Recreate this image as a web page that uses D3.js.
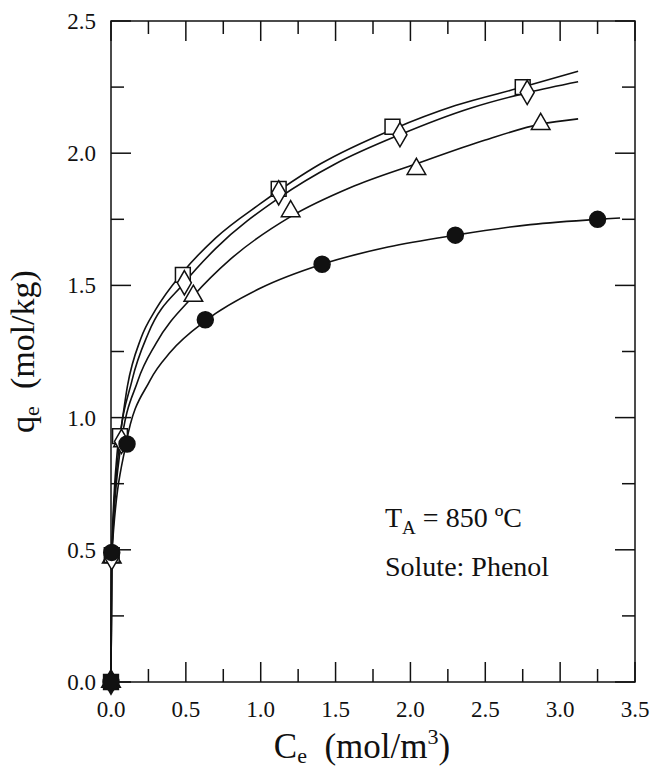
<!DOCTYPE html>
<html>
<head>
<meta charset="utf-8">
<script src="https://cdn.jsdelivr.net/npm/d3@7"></script>
<style>
  body { margin: 0; background: #fff; }
  svg { display: block; font-family: "Liberation Serif", "Times New Roman", serif; }
</style>
</head>
<body>
<div id="chart"></div>
<script>
// Measured points (Ce in mol/m3, qe in mol/kg)
const squareC = [0, 0.005, 0.06, 0.48, 1.12, 1.88, 2.75];
const squareQ = [0, 0.48, 0.93, 1.54, 1.865, 2.10, 2.25];
const diamondC = [0, 0.005, 0.07, 0.49, 1.12, 1.93, 2.78];
const diamondQ = [0, 0.47, 0.91, 1.51, 1.85, 2.07, 2.23];
const triangleC = [0, 0.005, 0.08, 0.55, 1.20, 2.04, 2.87];
const triangleQ = [0, 0.47, 0.91, 1.46, 1.78, 1.94, 2.11];
const circleC = [0, 0.005, 0.107, 0.63, 1.41, 2.30, 3.25];
const circleQ = [0, 0.49, 0.90, 1.37, 1.58, 1.69, 1.75];

// Fitted curves
const squareFitC = [0, 0.005, 0.04, 0.07, 0.11, 0.2, 0.3, 0.48, 0.7, 1.0, 1.4, 1.88, 2.3, 2.75, 3.12];
const squareFitQ = [0, 0.48, 0.86, 0.97, 1.12, 1.30, 1.41, 1.55, 1.68, 1.81, 1.96, 2.09, 2.18, 2.25, 2.31];
const diamondFitC = [0, 0.005, 0.05, 0.14, 0.25, 0.49, 0.7, 1.12, 1.5, 1.93, 2.4, 2.79, 3.12];
const diamondFitQ = [0, 0.47, 0.87, 1.14, 1.32, 1.51, 1.64, 1.83, 1.96, 2.07, 2.17, 2.23, 2.27];
const triangleFitC = [0, 0.005, 0.06, 0.18, 0.3, 0.55, 0.8, 1.2, 1.6, 2.04, 2.5, 2.87, 3.12];
const triangleFitQ = [0, 0.47, 0.87, 1.14, 1.28, 1.46, 1.60, 1.76, 1.87, 1.96, 2.05, 2.11, 2.13];
const circleFitC = [0, 0.005, 0.1, 0.26, 0.4, 0.64, 1.0, 1.41, 1.85, 2.3, 2.8, 3.25, 3.4];
const circleFitQ = [0, 0.48, 0.90, 1.14, 1.25, 1.37, 1.49, 1.58, 1.645, 1.69, 1.73, 1.75, 1.755];

const xTicks = [0, 0.5, 1.0, 1.5, 2.0, 2.5, 3.0, 3.5];
const yTicks = [0, 0.5, 1.0, 1.5, 2.0, 2.5];

const W = 650, H = 774;
const margin = { top: 21, right: 15, bottom: 92, left: 111 };
const width = W - margin.left - margin.right;
const height = H - margin.top - margin.bottom;

const svg = d3.select('#chart').append('svg')
    .attr('width', W)
    .attr('height', H);

const g = svg.append('g')
    .attr('transform', `translate(${margin.left},${margin.top})`);

const x = d3.scaleLinear().domain([0, 3.5]).range([0, width]);
const y = d3.scaleLinear().domain([0, 2.5]).range([height, 0]);

const ink = '#111';
const minorX = d3.range(0, 3.5001, 0.25);
const minorY = d3.range(0, 2.5001, 0.25);
const isMajor = v => Math.abs(v * 2 - Math.round(v * 2)) < 1e-6;

// Frame
g.append('rect')
    .attr('width', width)
    .attr('height', height)
    .attr('fill', 'none')
    .attr('stroke', ink)
    .attr('stroke-width', 1.5);

// Inward ticks, all four sides
const ticks = g.append('g').attr('stroke', ink).attr('stroke-width', 1.5);
minorX.forEach(v => {
    const len = isMajor(v) ? 20 : 13;
    ticks.append('line').attr('x1', x(v)).attr('x2', x(v)).attr('y1', height).attr('y2', height - len);
    ticks.append('line').attr('x1', x(v)).attr('x2', x(v)).attr('y1', 0).attr('y2', len);
});
minorY.forEach(v => {
    const len = isMajor(v) ? 20 : 13;
    ticks.append('line').attr('y1', y(v)).attr('y2', y(v)).attr('x1', 0).attr('x2', len);
    ticks.append('line').attr('y1', y(v)).attr('y2', y(v)).attr('x1', width).attr('x2', width - len);
});

// Tick labels
g.append('g').selectAll('text')
    .data(xTicks)
    .join('text')
    .attr('x', d => x(d))
    .attr('y', height + 35)
    .attr('text-anchor', 'middle')
    .attr('font-size', 23)
    .attr('fill', ink)
    .text(d => d.toFixed(1));

g.append('g').selectAll('text')
    .data(yTicks)
    .join('text')
    .attr('x', -15)
    .attr('y', d => y(d))
    .attr('dy', '0.35em')
    .attr('text-anchor', 'end')
    .attr('font-size', 23)
    .attr('fill', ink)
    .text(d => d.toFixed(1));

// Axis titles
const xTitle = svg.append('text')
    .attr('x', 362)
    .attr('y', 758)
    .attr('text-anchor', 'middle')
    .attr('font-size', 35)
    .attr('fill', ink);
xTitle.append('tspan').text('C');
xTitle.append('tspan').attr('font-size', 22).attr('dy', 5).text('e');
xTitle.append('tspan').attr('dy', -5).text('\u00a0\u00a0(mol/m');
xTitle.append('tspan').attr('font-size', 22).attr('dy', -14).text('3');
xTitle.append('tspan').attr('dy', 14).text(')');

const yTitle = svg.append('text')
    .attr('transform', `translate(34,${margin.top + height / 2}) rotate(-90)`)
    .attr('text-anchor', 'middle')
    .attr('font-size', 34)
    .attr('fill', ink);
yTitle.append('tspan').text('q');
yTitle.append('tspan').attr('font-size', 22).attr('dy', 5).text('e');
yTitle.append('tspan').attr('dy', -5).text('\u00a0\u00a0(mol/kg)');

// Annotation
const ann = svg.append('text')
    .attr('x', 385)
    .attr('y', 527)
    .attr('font-size', 28)
    .attr('fill', ink);
ann.append('tspan').text('T');
ann.append('tspan').attr('font-size', 19).attr('dy', 7).text('A');
ann.append('tspan').attr('dy', -7).text(' = 850 \u00baC');

svg.append('text')
    .attr('x', 385)
    .attr('y', 576)
    .attr('font-size', 28)
    .attr('fill', ink)
    .text('Solute: Phenol');

// Fit curves
const line = d3.line()
    .x(d => x(d[0]))
    .y(d => y(d[1]))
    .curve(d3.curveMonotoneX);

const fits = [
    [squareFitC, squareFitQ],
    [diamondFitC, diamondFitQ],
    [triangleFitC, triangleFitQ],
    [circleFitC, circleFitQ]
];
fits.forEach(([cs, qs]) => {
    g.append('path')
        .datum(cs.map((c, i) => [c, qs[i]]))
        .attr('fill', 'none')
        .attr('stroke', ink)
        .attr('stroke-width', 1.6)
        .attr('d', line);
});

// Markers (filled circles drawn last, on top)
const series = [
    { c: triangleC, q: triangleQ, type: d3.symbolTriangle, size: 150, fill: '#fff' },
    { c: squareC, q: squareQ, type: d3.symbolSquare, size: 220, fill: '#fff' },
    { c: diamondC, q: diamondQ, type: d3.symbolDiamond, size: 170, fill: '#fff' },
    { c: circleC, q: circleQ, type: d3.symbolCircle, size: 200, fill: ink }
];
series.forEach(s => {
    g.append('g').selectAll('path')
        .data(s.c.map((c, i) => [c, s.q[i]]))
        .join('path')
        .attr('transform', d => `translate(${x(d[0])},${y(d[1])})`)
        .attr('d', d3.symbol().type(s.type).size(s.size))
        .attr('fill', d => d[1] === 0 ? ink : s.fill)
        .attr('stroke', ink)
        .attr('stroke-width', 1.5);
});
</script>
</body>
</html>
